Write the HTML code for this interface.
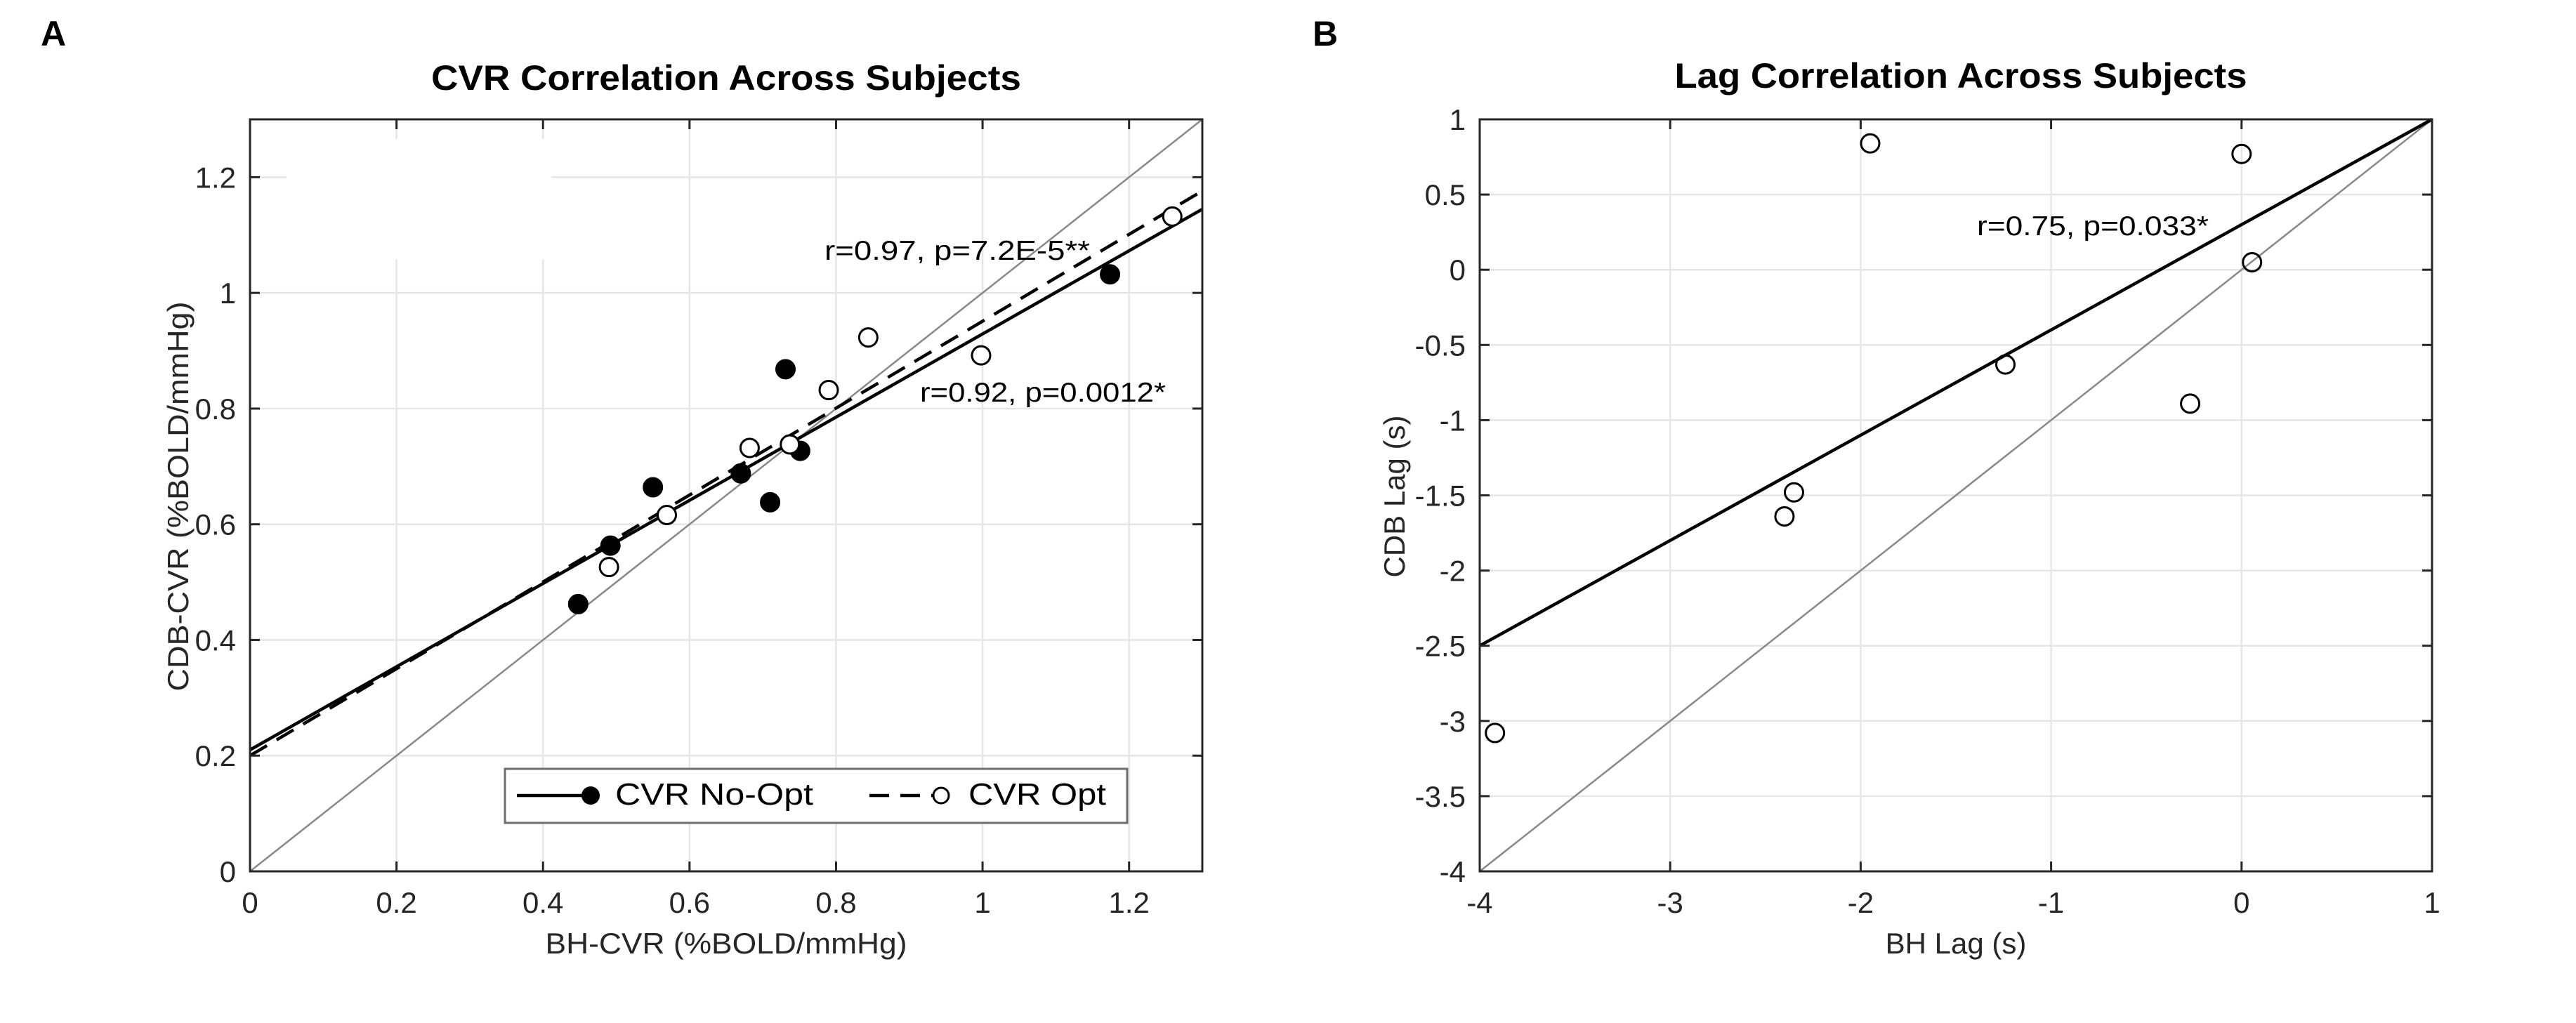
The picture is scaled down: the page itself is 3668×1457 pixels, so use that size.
<!DOCTYPE html>
<html><head><meta charset="utf-8"><style>
body{margin:0;background:#fff;}
svg{display:block;}
text{font-family:"Liberation Sans",sans-serif;fill:#262626;}
</style></head><body>
<svg id="fig" width="3668" height="1457" viewBox="0 0 3668 1457" xmlns="http://www.w3.org/2000/svg">
<text x="58" y="65" font-size="50" font-weight="bold" style="fill:#000">A</text>
<text x="1869" y="65" font-size="50" font-weight="bold" style="fill:#000">B</text>
<g id="pa"></g>
<g id="pb"></g>
</svg>
<script>
// Panel A data
const aTicksX = [0, 0.2, 0.4, 0.6, 0.8, 1, 1.2];
const aTicksY = [0, 0.2, 0.4, 0.6, 0.8, 1, 1.2];
const noOptX = [0.448, 0.492, 0.550, 0.670, 0.731, 0.710, 0.751, 1.174];
const noOptY = [0.462, 0.563, 0.664, 0.688, 0.868, 0.638, 0.727, 1.032];
const optX = [0.490, 0.569, 0.682, 0.737, 0.790, 0.844, 0.998, 1.259];
const optY = [0.526, 0.616, 0.732, 0.738, 0.832, 0.923, 0.892, 1.132];
const noOptFit = [0.21, 0.719];   // intercept, slope
const optFit = [0.20, 0.751];
// Panel B data
const bTicksX = [-4, -3, -2, -1, 0, 1];
const bTicksY = [1, 0.5, 0, -0.5, -1, -1.5, -2, -2.5, -3, -3.5, -4];
const lagX = [-3.92, -2.40, -2.35, -1.95, -1.24, -0.27, 0.0, 0.055];
const lagY = [-3.08, -1.64, -1.48, 0.84, -0.63, -0.89, 0.77, 0.05];
const lagFit = [0.30, 0.70];

const NS = "http://www.w3.org/2000/svg";
function mk(parent, tag, attrs, txt){
  const e = document.createElementNS(NS, tag);
  for (const k in attrs) e.setAttribute(k, attrs[k]);
  if (txt !== undefined) e.textContent = txt;
  parent.appendChild(e);
  return e;
}
function axes(g, L, R, T, B, x0, x1, y0, y1, tx, ty){
  const sx = v => L + (v - x0) / (x1 - x0) * (R - L);
  const sy = v => B - (v - y0) / (y1 - y0) * (B - T);
  tx.forEach(v => {
    const l = mk(g, 'line', {x1: sx(v), x2: sx(v), y1: T, y2: B, stroke: '#e6e6e6', 'stroke-width': 2.5});
    
    
  });
  ty.forEach(v => {
    const l = mk(g, 'line', {x1: L, x2: R, y1: sy(v), y2: sy(v), stroke: '#e6e6e6', 'stroke-width': 2.5});
    
    
  });
  return {sx, sy};
}
function frame(g, L, R, T, B, sx, sy, tx, ty){
  const f = mk(g, 'rect', {x: L, y: T, width: R - L, height: B - T, fill: 'none', stroke: '#262626', 'stroke-width': 3});
  
  
  tx.forEach(v => {
    mk(g, 'line', {x1: sx(v), x2: sx(v), y1: B, y2: B - 14, stroke: '#262626', 'stroke-width': 3});
    mk(g, 'line', {x1: sx(v), x2: sx(v), y1: T, y2: T + 14, stroke: '#262626', 'stroke-width': 3});
    const t = mk(g, 'text', {x: sx(v), y: 1300, 'font-size': 42, 'text-anchor': 'middle'}, String(v));
    
    
  });
  ty.forEach(v => {
    mk(g, 'line', {x1: L, x2: L + 14, y1: sy(v), y2: sy(v), stroke: '#262626', 'stroke-width': 3});
    mk(g, 'line', {x1: R, x2: R - 14, y1: sy(v), y2: sy(v), stroke: '#262626', 'stroke-width': 3});
    const t = mk(g, 'text', {x: L - 20, y: sy(v) + 15, 'font-size': 42, 'text-anchor': 'end'}, String(v));
    
    
  });
}

// ---------- Panel A ----------
const ga = document.getElementById('pa');
{
  const L = 356, R = 1712, T = 170, B = 1241;
  const {sx, sy} = axes(ga, L, R, T, B, 0, 1.3, 0, 1.3, aTicksX, aTicksY);
  const w = mk(ga, 'rect', {x: sx(0.05), y: sy(1.266), width: sx(0.411) - sx(0.05), height: sy(1.058) - sy(1.266), fill: '#fff'});
  
  
  const idl = mk(ga, 'line', {x1: sx(0), y1: sy(0), x2: sx(1.3), y2: sy(1.3), stroke: '#888', 'stroke-width': 2.5});
  
  
  const f1 = mk(ga, 'line', {x1: sx(0), y1: sy(noOptFit[0]), x2: sx(1.3), y2: sy(noOptFit[0] + noOptFit[1] * 1.3), stroke: '#000', 'stroke-width': 4.5});
  
  
  const f2 = mk(ga, 'line', {x1: sx(0), y1: sy(optFit[0]), x2: sx(1.3), y2: sy(optFit[0] + optFit[1] * 1.3), stroke: '#000', 'stroke-width': 4.5, 'stroke-dasharray': '28 16'});
  
  
  noOptX.forEach((x, i) => {
    const c = mk(ga, 'circle', {cx: sx(x), cy: sy(noOptY[i]), r: 13, fill: '#000', stroke: '#000', 'stroke-width': 3});
    
    
  });
  optX.forEach((x, i) => {
    const c = mk(ga, 'circle', {cx: sx(x), cy: sy(optY[i]), r: 13, fill: '#fff', stroke: '#000', 'stroke-width': 3});
    
    
  });
  frame(ga, L, R, T, B, sx, sy, aTicksX, aTicksY);
  const a1 = mk(ga, 'text', {x: 1174, y: 370, 'font-size': 39, textLength: 378, lengthAdjust: 'spacingAndGlyphs', style: 'fill:#000'}, 'r=0.97, p=7.2E-5**');
  
  
  const a2 = mk(ga, 'text', {x: 1310, y: 572, 'font-size': 39, textLength: 350, lengthAdjust: 'spacingAndGlyphs', style: 'fill:#000'}, 'r=0.92, p=0.0012*');
  
  
  // legend
  const lg = mk(ga, 'g', {});
  
  
  mk(lg, 'rect', {x: 719, y: 1095, width: 886, height: 77, fill: '#fff', stroke: '#6e6e6e', 'stroke-width': 3});
  mk(lg, 'line', {x1: 736, x2: 841, y1: 1133, y2: 1133, stroke: '#000', 'stroke-width': 4.5});
  mk(lg, 'circle', {cx: 841, cy: 1133, r: 13, fill: '#000'});
  const l1 = mk(lg, 'text', {x: 876, y: 1146, 'font-size': 44, textLength: 282, lengthAdjust: 'spacingAndGlyphs', style: 'fill:#000'}, 'CVR No-Opt');
  
  
  mk(lg, 'line', {x1: 1238, x2: 1328, y1: 1133, y2: 1133, stroke: '#000', 'stroke-width': 4.5, 'stroke-dasharray': '28 16'});
  mk(lg, 'circle', {cx: 1340, cy: 1133, r: 11, fill: '#fff', stroke: '#000', 'stroke-width': 3});
  const l2 = mk(lg, 'text', {x: 1379, y: 1146, 'font-size': 44, textLength: 196, lengthAdjust: 'spacingAndGlyphs', style: 'fill:#000'}, 'CVR Opt');
  
  
  const ti = mk(ga, 'text', {x: 1034, y: 128, 'font-size': 50, 'font-weight': 'bold', 'text-anchor': 'middle', textLength: 840, lengthAdjust: 'spacingAndGlyphs', style: 'fill:#000'}, 'CVR Correlation Across Subjects');
  
  
  const xl = mk(ga, 'text', {x: 1034, y: 1358, 'font-size': 42, 'text-anchor': 'middle', textLength: 515, lengthAdjust: 'spacingAndGlyphs'}, 'BH-CVR (%BOLD/mmHg)');
  
  
  const yl = mk(ga, 'text', {x: 0, y: 0, 'font-size': 42, 'text-anchor': 'middle', transform: 'translate(268,707) rotate(-90)', textLength: 555, lengthAdjust: 'spacingAndGlyphs'}, 'CDB-CVR (%BOLD/mmHg)');
  
  
}

// ---------- Panel B ----------
const gb = document.getElementById('pb');
{
  const L = 2107, R = 3463, T = 170, B = 1241;
  const {sx, sy} = axes(gb, L, R, T, B, -4, 1, -4, 1, bTicksX, bTicksY);
  const idl = mk(gb, 'line', {x1: sx(-4), y1: sy(-4), x2: sx(1), y2: sy(1), stroke: '#888', 'stroke-width': 2.5});
  
  
  const f = mk(gb, 'line', {x1: sx(-4), y1: sy(lagFit[0] + lagFit[1] * -4), x2: sx(1), y2: sy(lagFit[0] + lagFit[1] * 1), stroke: '#000', 'stroke-width': 4.5});
  
  
  lagX.forEach((x, i) => {
    const c = mk(gb, 'circle', {cx: sx(x), cy: sy(lagY[i]), r: 13, fill: 'none', stroke: '#000', 'stroke-width': 3});
    
    
  });
  frame(gb, L, R, T, B, sx, sy, bTicksX, bTicksY);
  const a = mk(gb, 'text', {x: 2815, y: 335, 'font-size': 39, textLength: 330, lengthAdjust: 'spacingAndGlyphs', style: 'fill:#000'}, 'r=0.75, p=0.033*');
  
  
  const ti = mk(gb, 'text', {x: 2792, y: 125, 'font-size': 50, 'font-weight': 'bold', 'text-anchor': 'middle', textLength: 815, lengthAdjust: 'spacingAndGlyphs', style: 'fill:#000'}, 'Lag Correlation Across Subjects');
  
  
  const xl = mk(gb, 'text', {x: 2785, y: 1358, 'font-size': 42, 'text-anchor': 'middle'}, 'BH Lag (s)');
  
  
  const yl = mk(gb, 'text', {x: 0, y: 0, 'font-size': 42, 'text-anchor': 'middle', transform: 'translate(2000,707) rotate(-90)'}, 'CDB Lag (s)');
  
  
}
</script>
</body></html>
